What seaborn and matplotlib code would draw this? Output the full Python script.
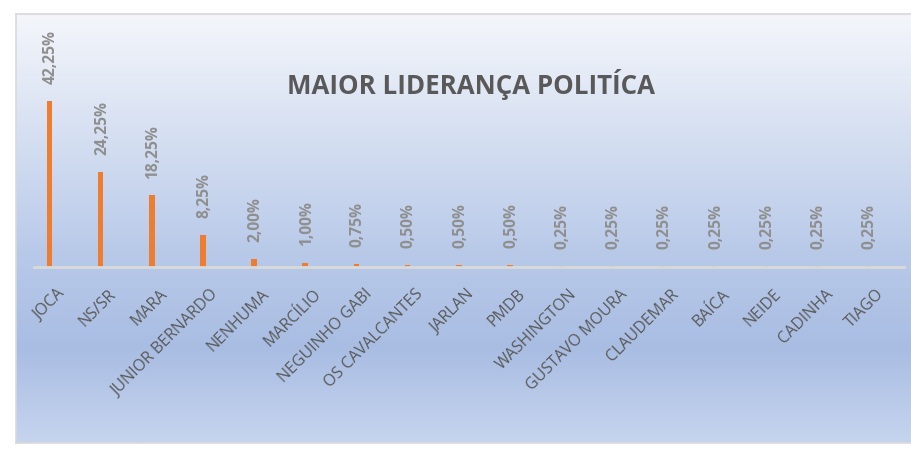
import numpy as np
import pandas as pd
import matplotlib
matplotlib.use("Agg")
import matplotlib.pyplot as plt
import matplotlib.transforms as mtransforms
from matplotlib.colors import LinearSegmentedColormap
import seaborn as sns

categories = ["JOCA", "NS/SR", "MARA", "JUNIOR BERNARDO", "NENHUMA", "MARCÍLIO",
              "NEGUINHO GABI", "OS CAVALCANTES", "JARLAN", "PMDB", "WASHINGTON",
              "GUSTAVO MOURA", "CLAUDEMAR", "BAÍCA", "NEIDE", "CADINHA", "TIAGO"]
values = [42.25, 24.25, 18.25, 8.25, 2.00, 1.00, 0.75, 0.50, 0.50, 0.50,
          0.25, 0.25, 0.25, 0.25, 0.25, 0.25, 0.25]
value_labels = ["42,25%", "24,25%", "18,25%", "8,25%", "2,00%", "1,00%", "0,75%",
                "0,50%", "0,50%", "0,50%", "0,25%", "0,25%", "0,25%", "0,25%",
                "0,25%", "0,25%", "0,25%"]
title = "MAIOR LIDERANÇA POLITÍCA"

sns.set_theme(style="white")
plt.rcParams['font.family'] = ['Open Sans', 'DejaVu Sans']

W, H = 912, 462
fig = plt.figure(figsize=(W / 100, H / 100), dpi=100)
fig.patch.set_facecolor("white")

# background gradient frame
fx0, fx1, fy0, fy1 = 16, 912, 14, 443
bg = fig.add_axes([fx0 / W, 1 - fy1 / H, (fx1 - fx0) / W, (fy1 - fy0) / H])
cmap = LinearSegmentedColormap.from_list(
    "bg", [(0.0, "#f4f6fb"), (0.55, "#b9cae9"), (0.78, "#a9bde3"), (1.0, "#c6d4ee")])
grad = np.linspace(0, 1, 256).reshape(-1, 1)
bg.imshow(grad, aspect="auto", cmap=cmap, extent=[0, 1, 1, 0])
bg.set_xlim(0, 1); bg.set_ylim(1, 0)
bg.set_xticks([]); bg.set_yticks([])
for s in bg.spines.values():
    s.set_color("#d9d9d9"); s.set_linewidth(1.2)

# main axes
ax0, ax1, ay_axis, ay_top = 34, 904, 267, 30
ax = fig.add_axes([ax0 / W, 1 - ay_axis / H, (ax1 - ax0) / W, (ay_axis - ay_top) / H])
ax.patch.set_alpha(0)

df = pd.DataFrame({"cat": categories, "val": values})
sns.barplot(data=df, x="cat", y="val", color="#ed7d31", width=0.11, saturation=1,
            ax=ax, edgecolor="none")
bar_shift = -0.2  # bars sit left of the category centre, as in the original
for p in ax.patches:
    p.set_x(p.get_x() + bar_shift)
ax.set_xlim(-0.5, len(categories) - 0.5)
ax.set_ylim(0, 60.3)
ax.set_xlabel(""); ax.set_ylabel("")
ax.set_yticks([])
for side in ["left", "right", "top"]:
    ax.spines[side].set_visible(False)
ax.spines["bottom"].set_color("#d9d9d9")
ax.spines["bottom"].set_linewidth(2)
ax.tick_params(axis="x", length=0, pad=0)

ax.set_xticks(range(len(categories)))
ax.set_xticklabels(categories, rotation=45, ha="right", va="center",
                   rotation_mode="anchor", fontsize=11.5, color="#595959")
offset = mtransforms.ScaledTranslation(3 / 100, -25 / 100, fig.dpi_scale_trans)
for lbl in ax.get_xticklabels():
    lbl.set_transform(lbl.get_transform() + offset)

for i, (v, t) in enumerate(zip(values, value_labels)):
    ax.annotate(t, (i + bar_shift, v), xytext=(1, 12), textcoords="offset points",
                rotation=90, ha="center", va="bottom", fontsize=11.2,
                fontweight="bold", color="#8f8f8f")

fig.text(471 / W, 1 - 84 / H, title, ha="center", va="center", fontsize=18.6,
         fontweight="bold", color="#595959")

fig.savefig("out.png", dpi=100)
